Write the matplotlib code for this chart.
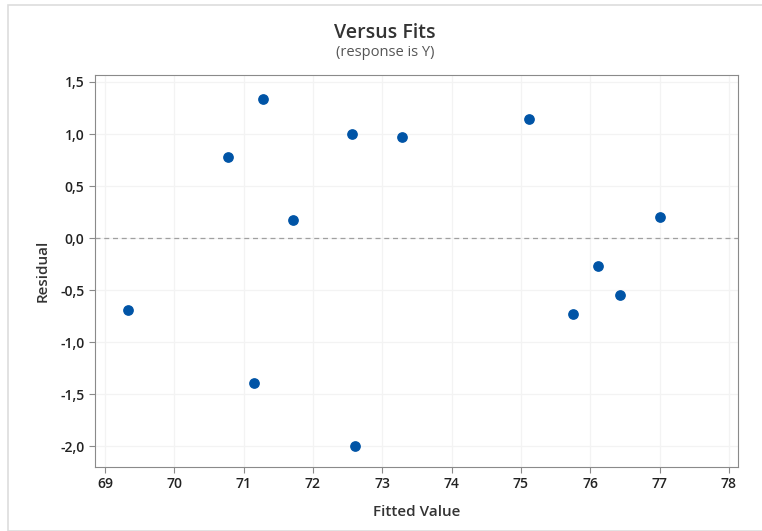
import matplotlib.pyplot as plt
from matplotlib.patches import Rectangle
from matplotlib.ticker import FuncFormatter

fitted = [69.33, 70.77, 71.28, 71.15, 71.71, 72.56, 72.61, 73.29, 75.12, 75.75, 76.11, 76.43, 77.0]
residual = [-0.69, 0.78, 1.34, -1.39, 0.17, 1.00, -2.00, 0.97, 1.14, -0.73, -0.27, -0.55, 0.20]
xticks = [69, 70, 71, 72, 73, 74, 75, 76, 77, 78]
yticks = [-2.0, -1.5, -1.0, -0.5, 0.0, 0.5, 1.0, 1.5]

plt.rcParams['font.family'] = ['Open Sans', 'DejaVu Sans']

fig = plt.figure(figsize=(7.62, 5.31), dpi=100)
fig.patches.append(Rectangle((8 / 762, 0), 1, 1 - 5 / 531, transform=fig.transFigure,
                             fill=False, edgecolor='#dddddd', linewidth=1.2))
ax = fig.add_axes([95 / 762, 1 - 467 / 531, 643 / 762, 392 / 531])

ax.scatter(fitted, residual, s=45, color='#0054a6', zorder=3)
ax.axhline(0, color='#a0a0a0', linestyle=(0, (4, 3)), linewidth=0.9, zorder=2)

ax.set_xlim(68.856, 78.13)
ax.set_ylim(-2.20, 1.567)
ax.set_xticks(xticks)
ax.set_yticks(yticks)
ax.yaxis.set_major_formatter(FuncFormatter(lambda v, p: ('%.1f' % v).replace('.', ',')))
ax.grid(True, color='#f3f3f3', linewidth=0.9)
ax.set_axisbelow(True)
for s in ax.spines.values():
    s.set_color('#8a8a8a')
ax.tick_params(colors='#8a8a8a', labelcolor='#222222', labelsize=10, length=4)
for lab in ax.get_xticklabels() + ax.get_yticklabels():
    lab.set_fontweight('semibold')

ax.set_xlabel('Fitted Value', fontsize=11, color='#333333', labelpad=10, fontweight='semibold')
ax.set_ylabel('Residual', fontsize=11, color='#333333', labelpad=8, fontweight='semibold')

fig.text(0.5 + 4 / 762, 1 - 33 / 531, 'Versus Fits', ha='center', va='center', fontsize=14,
         color='#333333', fontweight='semibold')
fig.text(0.5 + 4 / 762, 1 - 53 / 531, '(response is Y)', ha='center', va='center', fontsize=10.5, color='#555555')

fig.savefig('out.png', dpi=100)
